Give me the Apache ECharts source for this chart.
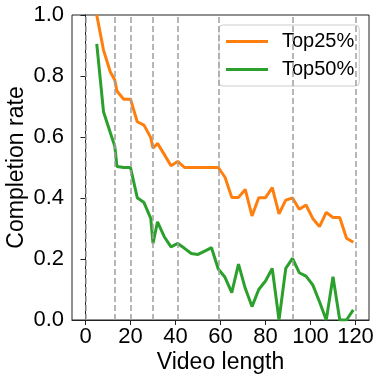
<!DOCTYPE html>
<html>
<head>
<meta charset="utf-8">
<script src="https://cdn.jsdelivr.net/npm/echarts@6/dist/echarts.min.js"></script>
<style>
  html, body { margin: 0; padding: 0; background: #fff; }
  #chart { width: 382px; height: 380px; }
</style>
</head>
<body>
<div id="chart"></div>
<script>
// video length (x) and completion rates
const videoLen = [5, 8, 11, 13, 14, 17, 20, 23, 26, 29, 30, 32, 35, 38, 41, 44, 47, 50, 53, 56, 59, 62, 65, 68, 71, 74, 77, 80, 83, 86, 89, 92, 95, 98, 101, 104, 107, 110, 113, 116, 119]
const top25 = [1.0, 0.885, 0.814, 0.787, 0.75, 0.724, 0.724, 0.650, 0.639, 0.598, 0.563, 0.579, 0.543, 0.506, 0.520, 0.50, 0.50, 0.50, 0.50, 0.50, 0.50, 0.468, 0.402, 0.402, 0.428, 0.341, 0.401, 0.401, 0.434, 0.348, 0.393, 0.40, 0.363, 0.377, 0.333, 0.306, 0.353, 0.336, 0.336, 0.268, 0.255]
const top50 = [0.905, 0.683, 0.615, 0.570, 0.503, 0.50, 0.50, 0.401, 0.385, 0.333, 0.251, 0.322, 0.273, 0.240, 0.251, 0.235, 0.218, 0.215, 0.226, 0.237, 0.167, 0.140, 0.090, 0.183, 0.104, 0.044, 0.100, 0.128, 0.169, 0.0, 0.169, 0.202, 0.155, 0.144, 0.115, 0.060, 0.0, 0.142, 0.0, 0.0, 0.033]
const dashX = [0, 13, 20, 30, 41, 59, 92, 120]  /* 竖虚线 */
const xTicks = [0, 20, 40, 60, 80, 100, 120]

const font = '"Liberation Sans", Arial, sans-serif'
const chart = echarts.init(document.getElementById('chart'))

const pairs = (ys) => videoLen.map((x, i) => [x, ys[i]])

const option = {
  animation: false,
  grid: {
    left: 72, right: 13, top: 15, bottom: 60,
    outerBoundsMode: 'none',
    containLabel: false,
    show: true,
    borderColor: '#222',
    borderWidth: 1
  },
  legend: {
    orient: 'vertical',
    left: 219,
    top: 25,
    padding: [5, 5, 5, 7],
    itemWidth: 42,
    itemHeight: 3,
    itemGap: 5,
    icon: 'rect',
    backgroundColor: 'rgba(255,255,255,0.8)',
    borderColor: '#cccccc',
    borderWidth: 1,
    borderRadius: 4,
    textStyle: {
      fontFamily: font,
      fontSize: 20,
      color: '#000',
      lineHeight: 23,
      padding: [0, 0, 0, 9]
    },
    data: ['Top25%', 'Top50%']
  },
  xAxis: {
    type: 'value',
    min: -6,
    max: 126,
    name: 'Video length',
    nameLocation: 'middle',
    nameGap: 31,
    nameMoveOverlap: false,
    nameTextStyle: { fontFamily: font, fontSize: 23, color: '#000' },
    splitLine: { show: false },
    axisLine: { show: true, onZero: false, lineStyle: { color: '#222', width: 1 } },
    axisTick: { show: true, length: 5, customValues: xTicks, lineStyle: { color: '#222' } },
    axisLabel: {
      customValues: xTicks,
      margin: 6,
      fontFamily: font,
      fontSize: 22,
      color: '#000'
    }
  },
  yAxis: {
    type: 'value',
    min: 0,
    max: 1,
    interval: 0.2,
    name: 'Completion rate',
    nameLocation: 'middle',
    nameGap: 44,
    nameMoveOverlap: false,
    nameTextStyle: { fontFamily: font, fontSize: 23, color: '#000' },
    splitLine: { show: false },
    axisLine: { show: true, lineStyle: { color: '#222', width: 1 } },
    axisTick: { show: true, length: 5, lineStyle: { color: '#222' } },
    axisLabel: {
      margin: 8,
      fontFamily: font,
      fontSize: 22,
      color: '#000',
      formatter: (v) => v.toFixed(1)
    }
  },
  series: [
    {
      name: 'Top25%',
      type: 'line',
      data: pairs(top25),
      symbol: 'none',
      lineStyle: { color: '#ff7f0e', width: 3 },
      itemStyle: { color: '#ff7f0e' },
      markLine: {
        silent: true,
        symbol: 'none',
        label: { show: false },
        lineStyle: { color: '#a0a0a0', width: 1.5, type: [6, 3] },
        data: dashX.map((v) => ({ xAxis: v }))
      },
      z: 3
    },
    {
      name: 'Top50%',
      type: 'line',
      data: pairs(top50),
      symbol: 'none',
      lineStyle: { color: '#2ca02c', width: 3 },
      itemStyle: { color: '#2ca02c' },
      z: 3
    }
  ]
}
chart.setOption(option)
</script>
</body>
</html>
